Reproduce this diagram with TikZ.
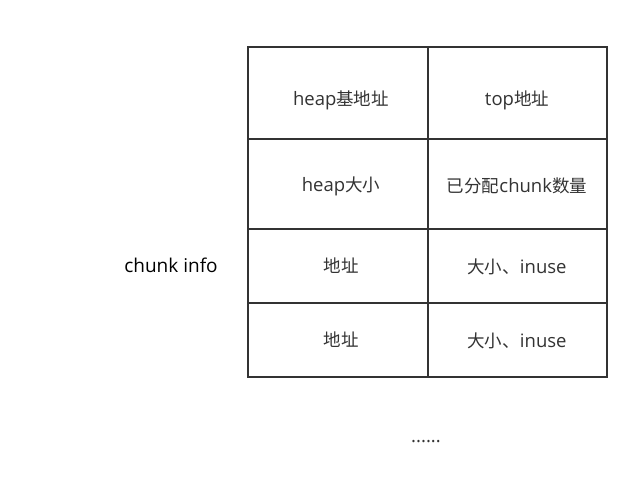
\documentclass[tikz,border=0pt]{standalone}
\usepackage{fontspec}
\setmainfont{Open Sans}
\newfontfamily\cjkf{Noto Sans CJK SC}
\newcommand{\zh}[1]{{\cjkf\fontsize{17.5bp}{19bp}\selectfont #1}}
\begin{document}
\begin{tikzpicture}[x=1bp,y=-1bp,
  cell/.style={draw=black!80,line width=1.5bp},
  txt/.style={text=black!80,font=\fontsize{18.5bp}{20bp}\selectfont,inner sep=0},
  lbl/.style={text=black,font=\fontsize{19bp}{20bp}\selectfont,inner sep=0}]
\useasboundingbox[fill=white] (0,0) rectangle (639,492);
\draw[cell] (248,47) rectangle (607,377);
\draw[cell] (428,47) -- (428,377);
\draw[cell] (248,139) -- (607,139);
\draw[cell] (248,229) -- (607,229);
\draw[cell] (248,303) -- (607,303);
\node[txt] (a1) at (341,100) {heap\zh{基地址}};
\node[txt] (b1) at (517,100) {top\zh{地址}};
\node[txt] (a2) at (341,186) {heap\zh{大小}};
\node[txt] (b2) at (517,186) {\zh{已分配}chunk\zh{数量}};
\node[txt] (a3) at (341,266) {\zh{地址}};
\node[txt] (b3) at (517,267) {\zh{大小、}inuse};
\node[txt] (a4) at (341,340) {\zh{地址}};
\node[txt] (b4) at (517,341) {\zh{大小、}inuse};
\node[lbl] (ci) at (171,265) {chunk info};
\node[txt] (dots) at (426,442) {......};
\end{tikzpicture}
\end{document}
